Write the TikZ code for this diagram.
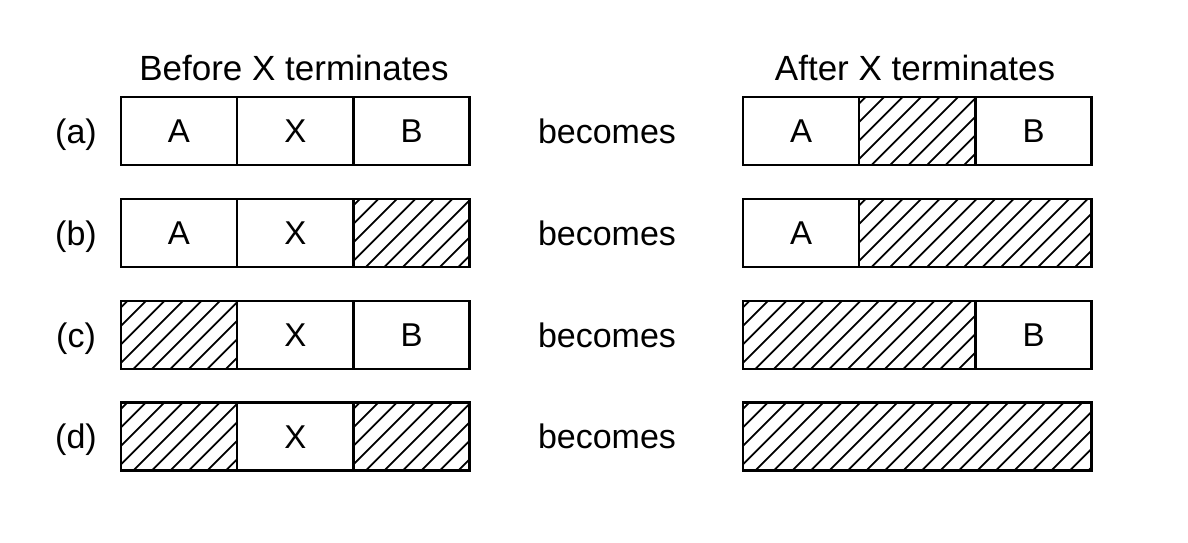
\documentclass[tikz,border=0pt]{standalone}
\usepackage{fontspec}
\setmainfont{Liberation Sans}
\begin{document}
\begin{tikzpicture}[x=1pt,y=1pt,
  lbl/.style={font=\fontsize{34}{40}\selectfont, inner sep=0pt, text height=24pt, text depth=0pt},
  ttl/.style={font=\fontsize{35}{40}\selectfont, inner sep=0pt, text height=25pt, text depth=0pt},
  cell/.style={draw, line width=2.6pt, minimum height=68pt, inner sep=0pt,
    font=\fontsize{33}{40}\selectfont, text height=23pt, text depth=0pt},
  one/.style={cell, minimum width=116.3pt},
  two/.style={cell, minimum width=232.6pt},
  three/.style={cell, minimum width=348.9pt},
  hatch/.style={path picture={
    \foreach \i in {-80,-61.5,...,360}{
      \draw[line width=1.8pt] ([xshift=\i pt]path picture bounding box.south west) -- ++(90pt,90pt);}
  }}]
\useasboundingbox (0,0) rectangle (1188,542);
% titles
\node[ttl] (t1) at (294,474) {Before X terminates};
\node[ttl] (t2) at (915,474) {After X terminates};
% row labels
\node[lbl] (la) at (76,411) {(a)};
\node[lbl] (lb) at (76,309) {(b)};
\node[lbl] (lc) at (76,207) {(c)};
\node[lbl] (ld) at (76,105.5) {(d)};
\node[lbl] (ba) at (607,411) {becomes};
\node[lbl] (bb) at (607,309) {becomes};
\node[lbl] (bc) at (607,207) {becomes};
\node[lbl] (bd) at (607,105.5) {becomes};
% row a
\node[one] (a1) at (179,411) {A};
\node[one] (a2) at (295.3,411) {X};
\node[one] (a3) at (411.6,411) {B};
\node[one] (ra1) at (801,411) {A};
\node[one,hatch] (ra2) at (917.3,411) {};
\node[one] (ra3) at (1033.6,411) {B};
% row b
\node[one] (b1) at (179,309) {A};
\node[one] (b2) at (295.3,309) {X};
\node[one,hatch] (b3) at (411.6,309) {};
\node[one] (rb1) at (801,309) {A};
\node[two,hatch] (rb2) at (975.45,309) {};
% row c
\node[one,hatch] (c1) at (179,207) {};
\node[one] (c2) at (295.3,207) {X};
\node[one] (c3) at (411.6,207) {B};
\node[two,hatch] (rc1) at (859.15,207) {};
\node[one] (rc3) at (1033.6,207) {B};
% row d
\node[one,hatch] (d1) at (179,105.5) {};
\node[one] (d2) at (295.3,105.5) {X};
\node[one,hatch] (d3) at (411.6,105.5) {};
\node[three,hatch] (rd) at (917.3,105.5) {};
\end{tikzpicture}
\end{document}
